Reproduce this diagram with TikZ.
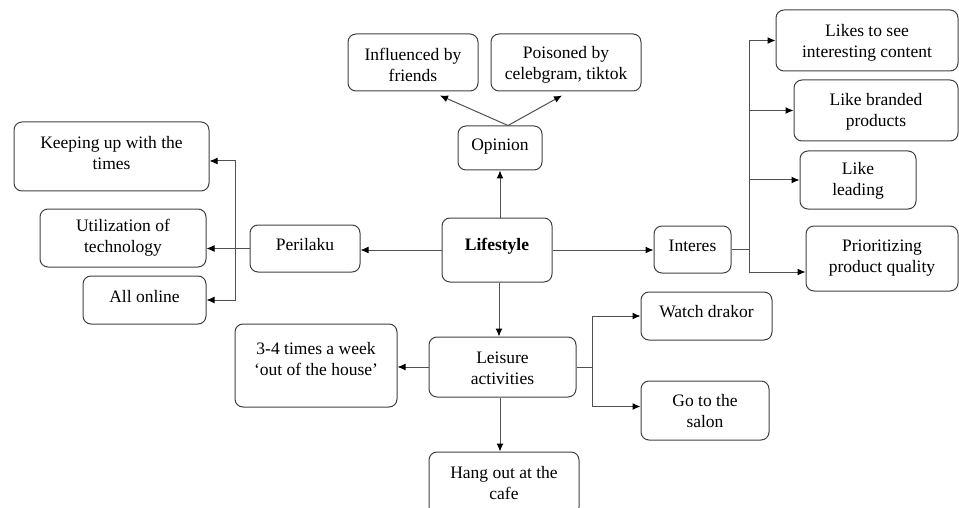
\documentclass[tikz,border=0pt]{standalone}
\usepackage{fontspec}
\setmainfont{Liberation Serif}
\usetikzlibrary{arrows.meta}
\definecolor{boxc}{HTML}{404040}
\definecolor{linec}{HTML}{505050}
\begin{document}
\begin{tikzpicture}[x=1pt,y=-1pt,
  txt/.style={align=center, inner sep=0pt, font=\fontsize{17.5}{21}\selectfont},
  box/.style={draw=boxc, line width=1pt, rounded corners=8pt, txt},
  conn/.style={draw=linec, line width=1pt, -{Latex[length=8pt,width=7pt,color=black]}},
  plain/.style={draw=linec, line width=1pt}]
\useasboundingbox (0,0) rectangle (959,508);
% boxes
\node[box, minimum width=130pt, minimum height=57pt,
  label={[txt,yshift=-2pt]center:Influenced by\\friends}] (infl) at (413,62.5) {};
\node[box, minimum width=150pt, minimum height=57pt,
  label={[txt,yshift=-2pt]center:Poisoned by\\celebgram, tiktok}] (pois) at (566,62.5) {};
\node[box, minimum width=84pt, minimum height=44pt,
  label={[txt,yshift=1.5pt]center:Opinion}] (opin) at (500,148) {};
\node[box, minimum width=195pt, minimum height=69pt,
  label={[txt,yshift=3pt]center:Keeping up with the\\times}] (keep) at (111.5,156.5) {};
\node[box, minimum width=166pt, minimum height=58pt,
  label={[txt]center:Utilization of\\technology}] (util) at (123,238) {};
\node[box, minimum width=110pt, minimum height=47pt,
  label={[txt,yshift=4pt]center:Perilaku}] (peri) at (305,248.5) {};
\node[box, minimum width=110pt, minimum height=64pt,
  label={[txt,yshift=4pt]center:\textbf{Lifestyle}}] (life) at (497,250) {};
\node[box, minimum width=123pt, minimum height=48pt,
  label={[txt,yshift=3.5pt]center:All online}] (allo) at (144.5,300) {};
\node[box, minimum width=77pt, minimum height=47pt,
  label={[txt,yshift=4pt]center:Interes}] (inte) at (692.5,249.5) {};
\node[box, minimum width=182pt, minimum height=61pt,
  label={[txt,yshift=-2pt]center:Likes to see\\interesting content}] (like1) at (867,40.5) {};
\node[box, minimum width=164pt, minimum height=61pt,
  label={[txt,yshift=-1pt]center:Like branded\\products}] (like2) at (876,110.5) {};
\node[box, minimum width=116pt, minimum height=58pt,
  label={[txt,yshift=-1pt]center:Like\\leading}] (like3) at (858,180) {};
\node[box, minimum width=152pt, minimum height=65pt,
  label={[txt]center:Prioritizing\\product quality}] (prio) at (882,258.5) {};
\node[box, minimum width=147pt, minimum height=60pt,
  label={[txt,yshift=-1pt]center:Leisure\\activities}] (leis) at (502.5,367) {};
\node[box, minimum width=162pt, minimum height=83pt,
  label={[txt,yshift=6.5pt]center:3-4 times a week\\‘out of the house’}] (times) at (316,365.5) {};
\node[box, minimum width=131pt, minimum height=48pt,
  label={[txt,yshift=4pt]center:Watch drakor}] (watch) at (706.5,316) {};
\node[box, minimum width=128pt, minimum height=59pt,
  label={[txt,yshift=-1pt]center:Go to the\\salon}] (salon) at (705,410.5) {};
\node[box, minimum width=150pt, minimum height=63pt,
  label={[txt]center:Hang out at the\\cafe}] (cafe) at (504,483.5) {};
% junctions
\coordinate (pj) at (235,248.5);
\coordinate (ij) at (749,249.5);
\coordinate (lj) at (592,367);
% connectors
\draw[conn] (life.north -| opin.south) -- (opin.south);
\draw[conn] ([xshift=8pt]opin.north) -- ([xshift=27pt,yshift=-4pt]infl.south);
\draw[conn] ([xshift=8pt]opin.north) -- ([xshift=-4pt,yshift=-4pt]pois.south);
\draw[conn] (life.west) -- (life.west -| peri.east);
\draw[conn] (peri.west) -- (peri.west -| util.east);
\draw[conn] (pj) |- ([yshift=-4.5pt]keep.east);
\draw[conn] (pj) |- (allo.east);
\draw[conn] (life.east) -- (life.east -| inte.west);
\draw[plain] (inte.east) -- (ij);
\draw[conn] (ij) |- (like1.west);
\draw[conn] (ij) |- (like2.west);
\draw[conn] (ij) |- (like3.west);
\draw[conn] (ij) |- ([yshift=-13.5pt]prio.west);
\draw[conn] ([xshift=2pt]life.south) -- ([xshift=2pt]life.south |- leis.north);
\draw[conn] (leis.west) -- (leis.west -| times.east);
\draw[plain] (leis.east) -- (lj);
\draw[conn] (lj) |- (watch.west);
\draw[conn] (lj) |- ([yshift=4pt]salon.west);
\draw[conn] ([xshift=-2.5pt]leis.south) -- ([xshift=-2.5pt]leis.south |- cafe.north);
\end{tikzpicture}
\end{document}
